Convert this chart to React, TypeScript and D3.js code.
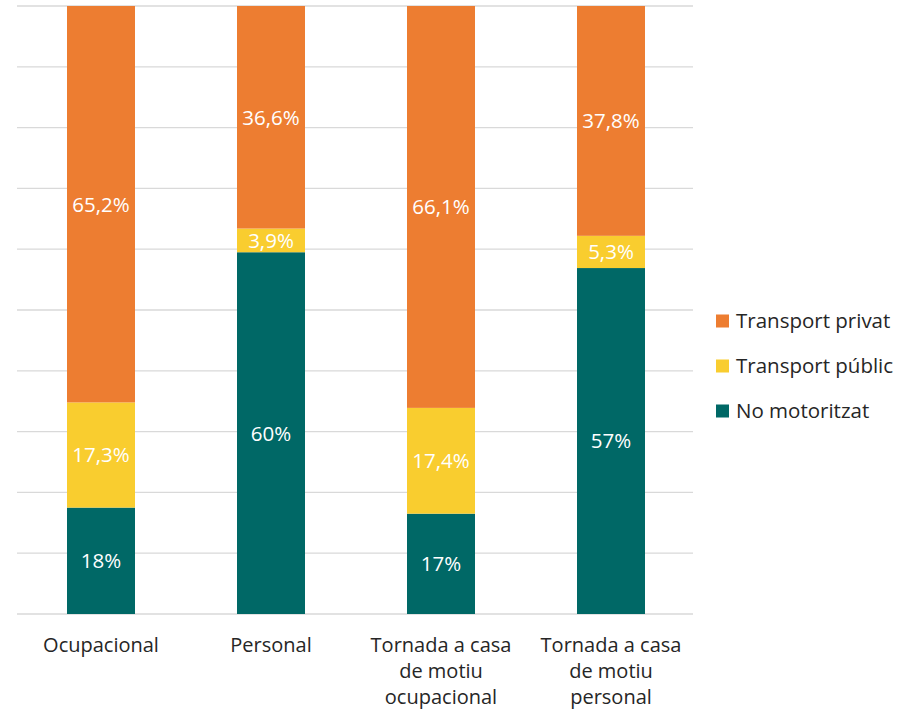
import React, { useRef, useEffect } from 'react';
import * as d3 from 'd3';

const categories = ['Ocupacional', 'Personal', 'Tornada a casa de motiu ocupacional', 'Tornada a casa de motiu personal'];
const categoryLines = [
  ['Ocupacional'],
  ['Personal'],
  ['Tornada a casa', 'de motiu', 'ocupacional'],
  ['Tornada a casa', 'de motiu', 'personal'],
];
const noMotoritzat = [17.5, 59.5, 16.5, 56.9];
const transportPublic = [17.3, 3.9, 17.4, 5.3];
const transportPrivat = [65.2, 36.6, 66.1, 37.8];
const yTicks = [0, 10, 20, 30, 40, 50, 60, 70, 80, 90, 100];

const seriesDefs = [
  { key: 'noMotoritzat', name: 'No motoritzat', values: noMotoritzat, color: '#006866', decimals: 0 },
  { key: 'transportPublic', name: 'Transport públic', values: transportPublic, color: '#F9CD2F', decimals: 1 },
  { key: 'transportPrivat', name: 'Transport privat', values: transportPrivat, color: '#ED7D31', decimals: 1 },
];

const fmt = (v: number, dec: number) =>
  dec === 0 ? `${Math.round(v)}%` : `${v.toFixed(dec).replace('.', ',')}%`;

export default function App() {
  const ref = useRef<SVGSVGElement | null>(null);

  useEffect(() => {
    if (!ref.current) return;
    const svg = d3.select(ref.current);
    svg.selectAll('*').remove();

    const font = "'Open Sans', sans-serif";
    const left = 16, right = 696, top = 6, bottom = 614;

    const x = d3.scaleBand<string>()
      .domain(categories)
      .range([left, right])
      .paddingInner(0.6)
      .paddingOuter(0.3);

    // bars are normalised to 100%
    const totals = categories.map((_, i) => seriesDefs.reduce((s, d) => s + d.values[i], 0));
    const y = d3.scaleLinear().domain([0, 100]).range([bottom, top]);

    svg.append('g')
      .selectAll('line')
      .data(yTicks)
      .join('line')
      .attr('x1', left + 1)
      .attr('x2', right - 3)
      .attr('y1', d => y(d))
      .attr('y2', d => y(d))
      .attr('stroke', '#d9d9d9')
      .attr('stroke-width', 1.3);

    const stackData = categories.map((c, i) => {
      const row: any = { cat: c, i };
      seriesDefs.forEach(s => { row[s.key] = (s.values[i] / totals[i]) * 100; });
      return row;
    });

    const stack = d3.stack<any>().keys(seriesDefs.map(s => s.key));
    const layers = stack(stackData);

    layers.forEach((layer, li) => {
      const def = seriesDefs[li];
      const g = svg.append('g');
      g.selectAll('rect')
        .data(layer)
        .join('rect')
        .attr('x', d => x(d.data.cat) as number)
        .attr('width', x.bandwidth())
        .attr('y', d => y(d[1]))
        .attr('height', d => y(d[0]) - y(d[1]))
        .attr('fill', def.color);
      g.selectAll('text')
        .data(layer)
        .join('text')
        .attr('x', d => (x(d.data.cat) as number) + x.bandwidth() / 2)
        .attr('y', d => (y(d[0]) + y(d[1])) / 2)
        .attr('dy', '0.36em')
        .attr('text-anchor', 'middle')
        .attr('fill', '#ffffff')
        .attr('font-family', font)
        .attr('font-size', 20.5)
        .text(d => fmt(def.values[d.data.i], def.decimals));
    });

    // category labels
    const xl = svg.append('g');
    categories.forEach((c, i) => {
      const t = xl.append('text')
        .attr('x', (x(c) as number) + x.bandwidth() / 2)
        .attr('y', 652)
        .attr('text-anchor', 'middle')
        .attr('fill', '#262626')
        .attr('font-family', font)
        .attr('font-size', 20);
      categoryLines[i].forEach((line, li) => {
        t.append('tspan')
          .attr('x', (x(c) as number) + x.bandwidth() / 2)
          .attr('dy', li === 0 ? 0 : 26)
          .text(line);
      });
    });

    // legend
    const legendOrder = [...seriesDefs].reverse();
    const lg = svg.append('g');
    legendOrder.forEach((s, i) => {
      const cy = 321 + i * 45;
      lg.append('rect')
        .attr('x', 716)
        .attr('y', cy - 6.5)
        .attr('width', 13)
        .attr('height', 13)
        .attr('fill', s.color);
      lg.append('text')
        .attr('x', 736)
        .attr('y', cy)
        .attr('dy', '0.36em')
        .attr('fill', '#262626')
        .attr('font-family', font)
        .attr('font-size', 20.5)
        .text(s.name);
    });
  }, []);

  return (
    <svg ref={ref} width={913} height={716} style={{ position: 'absolute', left: 0, top: 0 }} />
  );
}
